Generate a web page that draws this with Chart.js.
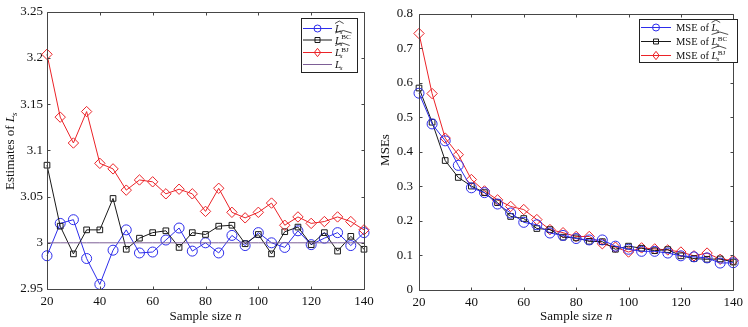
<!DOCTYPE html>
<html><head><meta charset="utf-8">
<script src="https://cdn.jsdelivr.net/npm/chart.js@4.4.1/dist/chart.umd.min.js"></script>
<style>
html,body{margin:0;padding:0;background:#fff;}
#wrap{position:relative;width:748px;height:327px;background:#fff;}
canvas{position:absolute;left:0;top:0;}
</style></head><body>
<div id="wrap"><canvas id="c1" width="748" height="327"></canvas><canvas id="c2" width="748" height="327"></canvas></div>
<script>
// ---------- data ----------
const sampleSizes = [20,25,30,35,40,45,50,55,60,65,70,75,80,85,90,95,100,105,110,115,120,125,130,135,140];
const estHat = [2.986,3.021,3.025,2.983,2.955,2.992,3.014,2.989,2.990,3.003,3.016,2.991,3.000,2.989,3.008,2.997,3.011,3.000,2.995,3.013,2.998,3.005,3.011,2.997,3.011];
const estBC  = [3.084,3.018,2.988,3.014,3.014,3.048,2.993,3.005,3.011,3.013,2.995,3.011,3.009,3.018,3.019,2.999,3.009,2.988,3.012,3.017,2.998,3.011,2.991,3.007,2.993];
const estBJ  = [3.204,3.136,3.108,3.142,3.086,3.080,3.057,3.068,3.066,3.053,3.058,3.053,3.034,3.059,3.033,3.027,3.033,3.043,3.019,3.028,3.021,3.023,3.028,3.023,3.014];
const trueLs = [3,3,3,3,3,3,3,3,3,3,3,3,3,3,3,3,3,3,3,3,3,3,3,3,3];
const mseHat = [0.570,0.481,0.432,0.361,0.296,0.282,0.249,0.223,0.196,0.189,0.165,0.158,0.149,0.145,0.145,0.127,0.118,0.112,0.112,0.107,0.099,0.096,0.093,0.078,0.079];
const mseBC  = [0.585,0.486,0.375,0.326,0.301,0.282,0.253,0.213,0.207,0.178,0.175,0.153,0.151,0.141,0.140,0.118,0.127,0.121,0.114,0.117,0.099,0.091,0.089,0.090,0.081];
const mseBJ  = [0.743,0.569,0.440,0.392,0.320,0.287,0.261,0.242,0.233,0.204,0.175,0.166,0.155,0.155,0.134,0.124,0.110,0.122,0.119,0.116,0.110,0.099,0.107,0.089,0.086];
const xTicks = [20,40,60,80,100,120,140];
const estTicks = [2.95,3,3.05,3.1,3.15,3.2,3.25];
const mseTicks = [0,0.1,0.2,0.3,0.4,0.5,0.6,0.7,0.8];

// ---------- styles ----------
const BLUE = 'rgb(45,45,235)';
const BLACK = 'rgb(25,25,25)';
const RED = 'rgb(235,35,40)';
const PURPLE = 'rgb(125,95,150)';
const AXIS = 'rgb(70,70,70)';
const SERIF = '"Liberation Serif", "Times New Roman", serif';

function pts(ys){ return sampleSizes.map((x,i)=>({x:x,y:ys[i]})); }

function ds(ys, color, style, radius){
  return {data: pts(ys), borderColor: color, borderWidth: 1, pointStyle: style,
    pointRadius: radius, pointBorderColor: color, pointBackgroundColor: 'rgba(0,0,0,0)',
    pointBorderWidth: 1, tension: 0, clip: false, fill: false};
}

function drawMathL(ctx, x, y, sup, size){
  ctx.save();
  ctx.fillStyle = '#111';
  ctx.textBaseline = 'alphabetic';
  ctx.textAlign = 'left';
  ctx.font = 'italic ' + size + 'px ' + SERIF;
  ctx.fillText('L', x, y);
  const w = ctx.measureText('L').width;
  const sub = size * 0.68;
  ctx.font = 'italic ' + sub + 'px ' + SERIF;
  ctx.fillText('s', x + w - 1, y + size * 0.22);
  const sw = ctx.measureText('s').width;
  let supw = 0;
  if (sup) {
    ctx.font = sub + 'px ' + SERIF;
    ctx.fillText(sup, x + w + 0.3, y - size * 0.42);
    supw = ctx.measureText(sup).width;
  }
  ctx.restore();
  return w + Math.max(sw - 1, supw + 0.3);
}

function drawHat(ctx, x, w, ytop){
  ctx.save();
  ctx.strokeStyle = '#222';
  ctx.lineWidth = 0.8;
  ctx.beginPath();
  ctx.moveTo(x, ytop + 2.5);
  ctx.lineTo(x + w / 2, ytop);
  ctx.lineTo(x + w, ytop + 2.5);
  ctx.stroke();
  ctx.restore();
}

function drawMarker(ctx, style, x, y, r, color){
  ctx.save();
  ctx.strokeStyle = color; ctx.lineWidth = 1;
  ctx.beginPath();
  if (style === 'circle') ctx.arc(x, y, r, 0, Math.PI * 2);
  else if (style === 'rect') ctx.rect(x - r, y - r, 2 * r, 2 * r);
  else if (style === 'diamond') { ctx.moveTo(x, y - r * 1.3); ctx.lineTo(x + r, y); ctx.lineTo(x, y + r * 1.3); ctx.lineTo(x - r, y); ctx.closePath(); }
  ctx.stroke();
  ctx.restore();
}

function legendEntry(ctx, x0, x1, y, color, style, r){
  ctx.save();
  ctx.strokeStyle = color; ctx.lineWidth = 1;
  ctx.beginPath(); ctx.moveTo(x0, y); ctx.lineTo(x1, y); ctx.stroke();
  ctx.restore();
  if (style) drawMarker(ctx, style, (x0 + x1) / 2, y, r, color);
}

function frameAndTicks(chart, xt, yt){
  const ctx = chart.ctx, a = chart.chartArea;
  const xs = chart.scales.x, ys = chart.scales.y;
  ctx.save();
  ctx.strokeStyle = AXIS; ctx.lineWidth = 1;
  ctx.beginPath();
  const L = Math.round(a.left) + 0.5, R = Math.round(a.right) + 0.5, T = Math.round(a.top) + 0.5, B = Math.round(a.bottom) + 0.5;
  ctx.rect(L, T, R - L, B - T);
  const tl = 3;
  xt.forEach(v => { const p = Math.round(xs.getPixelForValue(v)) + 0.5; ctx.moveTo(p, B); ctx.lineTo(p, B - tl); ctx.moveTo(p, T); ctx.lineTo(p, T + tl); });
  yt.forEach(v => { const p = Math.round(ys.getPixelForValue(v)) + 0.5; ctx.moveTo(L, p); ctx.lineTo(L + tl, p); ctx.moveTo(R, p); ctx.lineTo(R - tl, p); });
  ctx.stroke();
  ctx.restore();
}

function xTitle(chart){
  const ctx = chart.ctx, a = chart.chartArea;
  ctx.save();
  ctx.fillStyle = '#111'; ctx.textBaseline = 'alphabetic'; ctx.textAlign = 'left';
  ctx.font = '13px ' + SERIF;
  const t1 = 'Sample size ';
  const w1 = ctx.measureText(t1).width;
  ctx.font = 'italic 13px ' + SERIF;
  const w2 = ctx.measureText('n').width;
  const x0 = (a.left + a.right) / 2 - (w1 + w2) / 2;
  ctx.font = '13px ' + SERIF;
  ctx.fillText(t1, x0, 320);
  ctx.font = 'italic 13px ' + SERIF;
  ctx.fillText('n', x0 + w1, 320);
  ctx.restore();
}

function scaleCommon(ticksArr, min, max, fitFn, pad){
  return {
    type: 'linear', min: min, max: max,
    afterBuildTicks: s => { s.ticks = ticksArr.map(v => ({value: v})); },
    afterFit: fitFn,
    grid: {display: false, drawTicks: false},
    border: {display: false},
    ticks: {font: {family: SERIF, size: 13}, color: '#111', padding: pad, maxRotation: 0, autoSkip: false,
      callback: v => String(Number(v.toFixed(2)))}
  };
}

// ---------- left chart ----------
const leftPlugin = {
  id: 'leftDeco',
  afterDraw(chart){
    const ctx = chart.ctx;
    frameAndTicks(chart, xTicks, estTicks);
    xTitle(chart);
    ctx.save();
    ctx.translate(14, 150);
    ctx.rotate(-Math.PI / 2);
    ctx.fillStyle = '#111'; ctx.textBaseline = 'alphabetic'; ctx.textAlign = 'left';
    ctx.font = '13px ' + SERIF;
    const t = 'Estimates of ';
    const tw = ctx.measureText(t).width;
    ctx.font = 'italic 13px ' + SERIF;
    const lw = ctx.measureText('L').width + 5;
    const x0 = -(tw + lw) / 2;
    ctx.font = '13px ' + SERIF;
    ctx.fillText(t, x0, 0);
    drawMathL(ctx, x0 + tw, 0, null, 13);
    ctx.restore();
    // legend
    ctx.save();
    ctx.fillStyle = '#fff'; ctx.strokeStyle = '#222'; ctx.lineWidth = 1;
    ctx.fillRect(301, 18, 56, 54);
    ctx.strokeRect(301.5, 18.5, 56, 54);
    ctx.restore();
    const ys = [28.5, 40, 52.5, 64.5];
    legendEntry(ctx, 303, 332, ys[0], BLUE, 'circle', 3.5);
    legendEntry(ctx, 303, 332, ys[1], BLACK, 'rect', 2.5);
    legendEntry(ctx, 303, 332, ys[2], RED, 'diamond', 3.2);
    legendEntry(ctx, 303, 332, ys[3], PURPLE, null, 0);
    let w;
    w = drawMathL(ctx, 335, ys[0] + 3.5, null, 10.5); drawHat(ctx, 335, w + 1, ys[0] - 7.5);
    w = drawMathL(ctx, 335, ys[1] + 3.5, 'BC', 10.5); drawHat(ctx, 335, w + 1, ys[1] - 9.5);
    w = drawMathL(ctx, 335, ys[2] + 3.5, 'BJ', 10.5); drawHat(ctx, 335, w + 1, ys[2] - 9.5);
    drawMathL(ctx, 335, ys[3] + 3.5, null, 10.5);
  }
};

new Chart(document.getElementById('c1'), {
  type: 'line',
  data: {datasets: [
    Object.assign(ds(trueLs, PURPLE, false, 0), {pointRadius: 0}),
    ds(estBJ, RED, 'rectRot', 5.2),
    ds(estBC, BLACK, 'rect', 4),
    ds(estHat, BLUE, 'circle', 5)
  ]},
  options: {
    responsive: false, animation: false, devicePixelRatio: 1,
    layout: {padding: {left: 0, top: 11, right: 384, bottom: 0}},
    plugins: {legend: {display: false}, tooltip: {enabled: false}},
    scales: {
      x: scaleCommon(xTicks, 20, 140, s => { s.height = 38; }, 5),
      y: scaleCommon(estTicks, 2.95, 3.25, s => { s.width = 47; }, 4)
    }
  },
  plugins: [leftPlugin]
});

// ---------- right chart ----------
const rightPlugin = {
  id: 'rightDeco',
  afterDraw(chart){
    const ctx = chart.ctx;
    frameAndTicks(chart, xTicks, mseTicks);
    xTitle(chart);
    ctx.save();
    ctx.translate(389, 150);
    ctx.rotate(-Math.PI / 2);
    ctx.fillStyle = '#111'; ctx.textBaseline = 'alphabetic'; ctx.textAlign = 'center';
    ctx.font = '13px ' + SERIF;
    ctx.fillText('MSEs', 0, 0);
    ctx.restore();
    // legend
    ctx.save();
    ctx.fillStyle = '#fff'; ctx.strokeStyle = '#222'; ctx.lineWidth = 1;
    ctx.fillRect(639, 19, 99, 43);
    ctx.strokeRect(639.5, 19.5, 98, 43);
    ctx.restore();
    const ys = [27.5, 41.5, 55.5];
    legendEntry(ctx, 641, 671, ys[0], BLUE, 'circle', 3.5);
    legendEntry(ctx, 641, 671, ys[1], BLACK, 'rect', 2.5);
    legendEntry(ctx, 641, 671, ys[2], RED, 'diamond', 3.2);
    const sups = [null, 'BC', 'BJ'];
    ys.forEach((y, i) => {
      ctx.save();
      ctx.fillStyle = '#111'; ctx.textBaseline = 'alphabetic'; ctx.textAlign = 'left';
      ctx.font = '10.5px ' + SERIF;
      const t = 'MSE of ';
      ctx.fillText(t, 676, y + 3.5);
      const tw = ctx.measureText(t).width;
      ctx.restore();
      const w = drawMathL(ctx, 676 + tw, y + 3.5, sups[i], 10.5);
      drawHat(ctx, 676 + tw, w + 1, y - (sups[i] ? 9.5 : 7.5));
    });
  }
};

new Chart(document.getElementById('c2'), {
  type: 'line',
  data: {datasets: [
    ds(mseHat, BLUE, 'circle', 5),
    ds(mseBC, BLACK, 'rect', 4),
    ds(mseBJ, RED, 'rectRot', 5.2)
  ]},
  options: {
    responsive: false, animation: false, devicePixelRatio: 1,
    layout: {padding: {left: 0, top: 11, right: 10, bottom: 0}},
    plugins: {legend: {display: false}, tooltip: {enabled: false}},
    scales: {
      x: scaleCommon(xTicks, 20, 140, s => { s.height = 37; }, 5),
      y: scaleCommon(mseTicks, 0, 0.8, s => { s.width = 419; }, 6)
    }
  },
  plugins: [rightPlugin]
});
</script>
</body></html>
